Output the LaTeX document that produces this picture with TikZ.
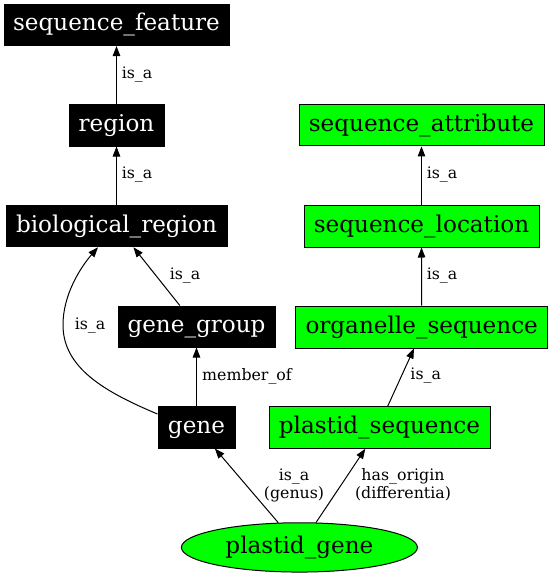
\documentclass[tikz,border=0pt]{standalone}
\usepackage{fontspec}
\setmainfont{DejaVu Serif}
\usetikzlibrary{arrows.meta,calc,shapes.geometric}
\definecolor{lime}{HTML}{00FF00}
\tikzset{
  nfont/.style={font=\fontsize{23.1}{26}\selectfont,text height=17.5pt,text depth=5.5pt},
  blk/.style={rectangle,draw=black,fill=black,text=white,inner sep=0pt,nfont,line width=1pt},
  grn/.style={rectangle,draw=black,fill=lime,text=black,inner sep=0pt,nfont,line width=1pt},
  edge/.style={draw=black,line width=1pt,-{Triangle[length=10pt,width=7.5pt]}},
  elab/.style={font=\fontsize{15.8}{18}\selectfont,inner sep=0pt,align=center},
}
\begin{document}
\begin{tikzpicture}[x=1pt,y=-1pt]
\useasboundingbox (0,0) rectangle (552,576);
\node[blk,minimum width=225pt,minimum height=41.5pt] (sf) at (116.5,24.8) {sequence\_feature};
\node[blk,minimum width=95pt,minimum height=42pt] (rg) at (116.5,125) {region};
\node[blk,minimum width=221pt,minimum height=41.5pt] (br) at (116.5,226) {biological\_region};
\node[blk,minimum width=157pt,minimum height=41pt] (gg) at (196.5,326.5) {gene\_group};
\node[blk,minimum width=77pt,minimum height=42pt] (ge) at (196.5,427) {gene};
\node[grn,minimum width=245pt,minimum height=41.3pt] (sa) at (421.5,125.3) {sequence\_attribute};
\node[grn,minimum width=235pt,minimum height=42pt] (sl) at (421.5,226) {sequence\_location};
\node[grn,minimum width=252pt,minimum height=42pt] (os) at (421.7,327) {organelle\_sequence};
\node[grn,minimum width=221pt,minimum height=41.6pt] (ps) at (379.5,427.5) {plastid\_sequence};
\node[ellipse,draw=black,fill=lime,line width=1pt,inner sep=0pt,minimum width=236pt,minimum height=49.3pt,nfont] (pg) at (299.4,547.4) {plastid\_gene};

\draw[edge] (rg) -- (sf);
\draw[edge] (br) -- (rg);
\draw[edge] (gg) -- (br);
\draw[edge] (ge) -- (gg);
\draw[edge] (ge.west |- 0,414) .. controls (105,392) and (63,368) .. (63,325) .. controls (63,295) and (80,268) .. ($(br.south)+(-18.5,0)$);
\draw[edge] (sl) -- (sa);
\draw[edge] (os) -- (sl);
\draw[edge] ($(ps.north)+(8.2,0)$) -- ($(os.south)+(-7.7,0)$);
\draw[edge] (pg) -- (ge);
\draw[edge] (pg) -- (ps);

\node[elab] (l1) at (137,75) {is\_a};
\node[elab] (l2) at (137,175) {is\_a};
\node[elab] (l3) at (185,276) {is\_a};
\node[elab] (l4) at (90,326) {is\_a};
\node[elab,anchor=west] (l5) at (202,376) {member\_of};
\node[elab] (l6) at (442,175) {is\_a};
\node[elab] (l7) at (442,275.7) {is\_a};
\node[elab] (l8) at (425.7,375.7) {is\_a};
\node[elab] (l9) at (294,485) {is\_a\\(genus)};
\node[elab] (l10) at (403,485) {has\_origin\\(differentia)};
\end{tikzpicture}
\end{document}
